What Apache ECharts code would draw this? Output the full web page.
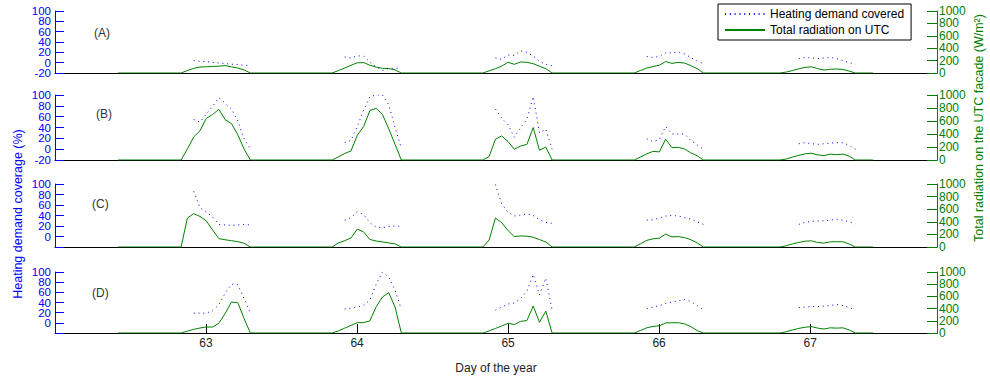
<!DOCTYPE html>
<html>
<head>
<meta charset="utf-8">
<script src="https://cdn.jsdelivr.net/npm/echarts@6/dist/echarts.min.js"></script>
<style>
html,body{margin:0;padding:0;background:#fff;}
#chart{width:990px;height:378px;}
</style>
</head>
<body>
<div id="chart"></div>
<script>
// ---------------- DATA ----------------
const days = [63, 64, 65, 66, 67];
const dayTickLabels = ['63', '64', '65', '66', '67'];
// first hourly sample of each daylight block (day of year)
const sunrise = [62.835, 63.835, 64.833, 65.835, 66.80];
const hourStep = 1 / 24;
// index (hours after sunrise) of the first demand-coverage sample per day
const demandFirstHour = [2, 2, 2, 2, 3];
const nightStart = 62.4167;
const nightEnd = 67.4167;

const panelLabels = ['(A)', '(B)', '(C)', '(D)'];
const legendNames = ['Heating demand covered', 'Total radiation on UTC'];

// Total radiation on UTC facade (W/m2), hourly, per day
const radA = [
  [0, 40, 75, 97, 100, 105, 110, 120, 100, 80, 50, 0],
  [0, 40, 80, 125, 165, 168, 125, 95, 75, 72, 50, 0],
  [0, 35, 70, 110, 173, 140, 178, 172, 150, 108, 71, 0],
  [0, 40, 80, 105, 125, 185, 155, 172, 160, 120, 70, 0],
  [0, 15, 40, 68, 90, 100, 70, 48, 60, 65, 57, 30, 0]
];
const radB = [
  [0, 170, 355, 450, 640, 700, 780, 620, 560, 390, 170, 0],
  [0, 50, 100, 140, 380, 515, 760, 795, 700, 480, 240, 0],
  [0, 54, 320, 370, 285, 165, 215, 240, 500, 150, 200, 0],
  [0, 45, 95, 132, 125, 320, 190, 195, 170, 110, 65, 0],
  [0, 15, 45, 72, 95, 105, 78, 68, 90, 82, 90, 60, 0]
];
const radC = [
  [0, 460, 530, 485, 415, 270, 133, 115, 100, 85, 60, 0],
  [0, 65, 100, 145, 285, 240, 120, 95, 80, 65, 50, 0],
  [0, 111, 460, 385, 260, 165, 175, 172, 155, 118, 80, 0],
  [0, 50, 105, 130, 140, 205, 160, 165, 150, 115, 65, 0],
  [0, 20, 50, 72, 92, 98, 72, 62, 82, 84, 84, 48, 0]
];
const radD = [
  [0, 30, 60, 82, 98, 98, 160, 320, 505, 500, 240, 0],
  [0, 35, 80, 125, 170, 170, 200, 430, 590, 660, 426, 0],
  [0, 35, 75, 115, 160, 138, 190, 205, 443, 175, 360, 0],
  [0, 40, 85, 108, 118, 165, 168, 168, 150, 105, 40, 0],
  [0, 20, 50, 75, 95, 105, 80, 65, 85, 80, 85, 50, 0]
];

// Heating demand covered (%), hourly, per day
const demA = [
  [4, 2.5, 2, 0.5, -0.5, -1.8, -3, -3.7, -5, -6],
  [11, 9, 13, 13, 1, -8, -15, -11, -11, -11],
  [9, 6.5, 15, 14, 23, 20, 13, 2.5, -3, -6],
  [12, 10, 12, 19, 19, 20.5, 17, 10, 3, -2],
  [8, 10, 9, 8, 9, 10, 8, 4, 0, -3]
];
const demB = [
  [55, 50, 65, 79, 95, 85, 74, 52, 20, 0],
  [12, 16, 42, 72, 97, 100, 100, 82, 40, 2],
  [74, 57, 45, 22, 40, 55, 97, 30, 37, 0],
  [19, 14, 18, 42, 28, 28, 28, 16, 8, 0],
  [10, 12, 10, 9, 10, 11, 12, 12, 7, 0]
];
const demC = [
  [86, 55, 47, 37, 23, 22, 21, 22, 23, 22],
  [31, 36, 47, 42, 26, 18, 17, 19, 20, 19],
  [99, 62, 46, 39, 41, 43, 40, 32, 27, 25],
  [31, 32, 35, 39, 40, 39, 36, 33, 28, 23],
  [23, 27, 29, 29.5, 30, 31, 33, 31, 28, 24]
];
const demD = [
  [19, 19, 19, 24, 36, 58, 76, 75, 48, 20],
  [27, 29, 31, 34.5, 45, 76, 100, 90, 64, 27],
  [25, 31, 37, 39, 48, 62, 95, 55, 88, 25],
  [28, 31, 34, 38, 41, 43, 46, 42, 34, 26],
  [30, 31, 32, 32, 33, 34, 36, 34, 30, 26]
];

const leftTicks = { min: -20, max: 100, step: 20 };
const rightTicks = { min: 0, max: 1000, step: 200 };
// left tick labels, split in two interleaved sets so that they can sit this close
const leftLabelsOddAB = [-20, 20, 60, 100];
const leftLabelsOddCD = [20, 60, 100];
const leftLabelsEven = [0, 40, 80];
const xRange = { min: 62, max: 67.84 };

// ---------------- LAYOUT / STYLE ----------------
const FONT = '"Liberation Sans", Arial, sans-serif';
const BLUE = '#0000ff';
const GREEN = '#008000';
const gridTops = [11, 95, 184, 272];
const gridHeights = [62, 65, 63, 61];
const labelPos = [[94, 34], [96, 115], [92, 205], [92, 294]];

const radPanels = [radA, radB, radC, radD];
const demPanels = [demA, demB, demC, demD];

function buildRad(rad) {
  const out = [[nightStart, 0]];
  rad.forEach((vals, d) => {
    vals.forEach((v, k) => out.push([sunrise[d] + k * hourStep, v]));
  });
  out.push([nightEnd, 0]);
  return out;
}
function buildDem(dem) {
  const out = [];
  dem.forEach((vals, d) => {
    vals.forEach((v, j) => out.push([sunrise[d] + (demandFirstHour[d] + j) * hourStep, v]));
    out.push([sunrise[d] + (demandFirstHour[d] + vals.length) * hourStep, null]);
  });
  return out;
}

const leftLabelStyle = { color: BLUE, fontSize: 11.5, fontFamily: FONT, margin: 4,
  showMinLabel: true, showMaxLabel: true, hideOverlap: false, formatter: v => String(v) };

const grid = [], xAxis = [], yAxis = [], series = [], graphic = [];
for (let p = 0; p < 4; p++) {
  grid.push({ left: 55, right: 53, top: gridTops[p], height: gridHeights[p], show: false });
  const last = p === 3;
  xAxis.push({
    gridIndex: p, type: 'value', min: xRange.min, max: xRange.max,
    axisLine: { onZero: false, lineStyle: { color: '#000', width: 1 } },
    axisTick: { show: last, inside: true, length: 9, customValues: days, lineStyle: { color: '#000' } },
    axisLabel: { show: last, customValues: days, margin: 4, color: '#222', fontSize: 12, fontFamily: FONT,
      formatter: v => dayTickLabels[days.indexOf(Math.round(v))] || '' },
    splitLine: { show: false },
    name: last ? 'Day of the year' : '',
    nameLocation: 'middle', nameGap: 29,
    nameTextStyle: { color: '#222', fontSize: 12, fontFamily: FONT }
  });
  // index 3p: left axis (line, ticks, first label set)
  yAxis.push({
    gridIndex: p, type: 'value', position: 'left',
    min: leftTicks.min, max: leftTicks.max, interval: leftTicks.step,
    axisLine: { show: true, onZero: false, lineStyle: { color: BLUE } },
    axisTick: { show: true, inside: true, length: 9, lineStyle: { color: BLUE } },
    axisLabel: Object.assign({}, leftLabelStyle, { customValues: p < 2 ? leftLabelsOddAB : leftLabelsOddCD }),
    splitLine: { show: false }
  });
  // index 3p+1: right axis
  yAxis.push({
    gridIndex: p, type: 'value', position: 'right',
    min: rightTicks.min, max: rightTicks.max, interval: rightTicks.step,
    axisLine: { show: true, onZero: false, lineStyle: { color: GREEN } },
    axisTick: { show: true, inside: true, length: 10, lineStyle: { color: GREEN } },
    axisLabel: { color: GREEN, fontSize: 12, fontFamily: FONT, margin: 2,
      showMinLabel: true, showMaxLabel: true, hideOverlap: false, formatter: v => String(v) },
    splitLine: { show: false }
  });
  // index 3p+2: second set of left labels on the same scale
  yAxis.push({
    gridIndex: p, type: 'value', position: 'left', offset: 0,
    min: leftTicks.min, max: leftTicks.max, interval: leftTicks.step,
    axisLine: { show: false }, axisTick: { show: false },
    axisLabel: Object.assign({}, leftLabelStyle, { customValues: leftLabelsEven }),
    splitLine: { show: false }
  });
  series.push({
    name: legendNames[1], type: 'line', xAxisIndex: p, yAxisIndex: 3 * p + 1,
    data: buildRad(radPanels[p]), symbol: 'none', showSymbol: false,
    lineStyle: { color: GREEN, width: 1 }, itemStyle: { color: GREEN }, z: 3, silent: true
  });
  series.push({
    name: legendNames[0], type: 'line', xAxisIndex: p, yAxisIndex: 3 * p,
    data: buildDem(demPanels[p]), symbol: 'none', showSymbol: false, connectNulls: false,
    lineStyle: { color: BLUE, width: 1, type: [1, 3.8] }, itemStyle: { color: BLUE }, z: 4, silent: true
  });
  graphic.push({
    type: 'text', left: labelPos[p][0], top: labelPos[p][1] - 7,
    style: { text: panelLabels[p], fill: '#333', font: '12px ' + FONT }
  });
}
graphic.push({
  type: 'text', x: 17.5, y: 214, rotation: Math.PI / 2,
  style: { text: 'Heating demand coverage (%)', fill: BLUE, font: '12.5px ' + FONT, align: 'center', verticalAlign: 'middle' }
});
graphic.push({
  type: 'text', x: 979, y: 128, rotation: Math.PI / 2,
  style: { text: 'Total radiation on the UTC facade (W/m²)', fill: GREEN, font: '12.5px ' + FONT, align: 'center', verticalAlign: 'middle' }
});

const chart = echarts.init(document.getElementById('chart'), null, { renderer: 'svg' });
chart.setOption({
  animation: false,
  backgroundColor: '#fff',
  legend: {
    data: legendNames, orient: 'vertical', left: 718, top: 4,
    padding: [4, 7, 4, 6], itemGap: 4, itemWidth: 40, itemHeight: 14,
    borderColor: '#000', borderWidth: 1, backgroundColor: '#fff',
    itemStyle: { opacity: 0 },
    textStyle: { color: '#000', fontSize: 12, fontFamily: FONT },
    selectedMode: false
  },
  grid, xAxis, yAxis, series, graphic
});
</script>
</body>
</html>
